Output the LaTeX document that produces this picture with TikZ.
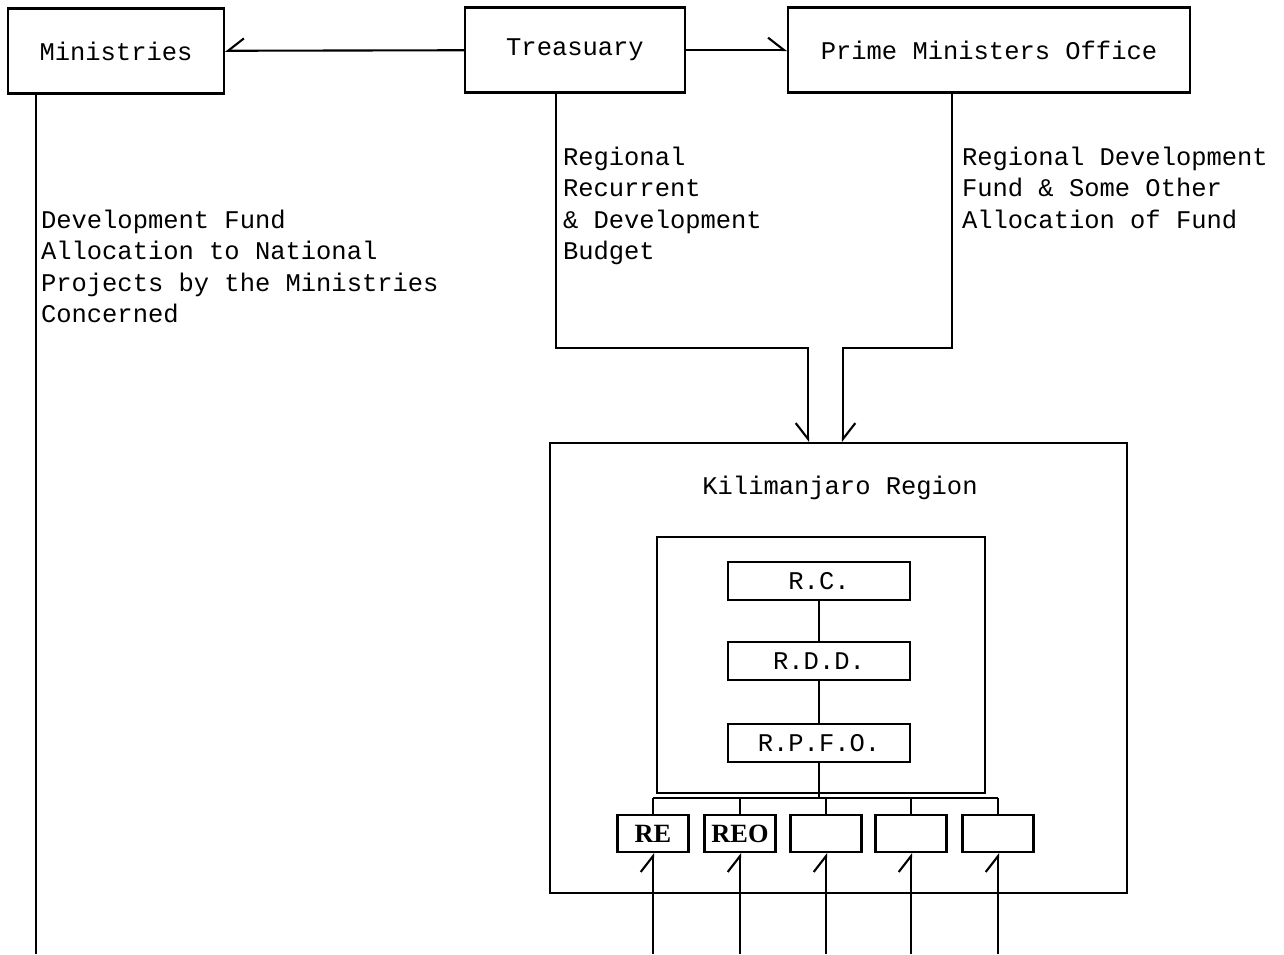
\documentclass[tikz,border=0pt]{standalone}
\usepackage{fontspec}
\setmainfont{Liberation Mono}
\newfontfamily\unitfont{Liberation Serif}
\usetikzlibrary{arrows.meta,positioning}

\begin{document}
\begin{tikzpicture}[
  x=0.02cm, y=-0.02cm,
  line width=1.2pt,
  font=\fontsize{14.5}{17.9}\selectfont,
  topbox/.style={draw, minimum height=1.7cm, minimum width=#1, inner sep=0pt},
  officebox/.style={draw, minimum width=3.64cm, minimum height=0.76cm, inner sep=0pt},
  unitbox/.style={draw, minimum width=1.42cm, minimum height=0.74cm, inner sep=0pt, font=\unitfont\bfseries\fontsize{15}{17}\selectfont},
  note/.style={align=left, anchor=north west, inner sep=0pt},
  arrowL/.style={-{Straight Barb[harpoon, length=9pt, width=14pt]}},
  arrowR/.style={-{Straight Barb[harpoon, swap, length=9pt, width=14pt]}}
]
  \useasboundingbox (0,0) rectangle (1284,954);

  % Top row
  \node[topbox=4.32cm] (mins) at (116,51) {Ministries};
  \node[topbox=4.4cm] (tre) at (575,50) {Treasuary};
  \node[topbox=8.04cm] (pmo) at (989,50) {Prime Ministers Office};

  \draw[arrowR] (tre) -- (mins);
  \draw[arrowL] (tre) -- (pmo);

  % Helper coordinates
  \coordinate (floor) at (0,954);
  \coordinate (mline) at (36,0);
  \coordinate (tbend) at (556,348);
  \coordinate (pbend) at (952,348);
  \coordinate (kx1) at (808,0);
  \coordinate (kx2) at (843,0);

  % Ministries fund line
  \draw (mins.south -| mline) -- (floor -| mline);
  \node[note] (devnote) at (40,209) {Development Fund\\Allocation to National\\Projects by the Ministries\\Concerned};

  % Region
  \node[draw, minimum width=11.54cm, minimum height=9cm, inner sep=0pt] (kili) at (838.5,668) {};
  \node (kilititle) at (840,488) {Kilimanjaro Region};

  % Budget lines
  \draw[arrowR] (tre.south -| tbend) -- (tbend) -| (kili.north -| kx1);
  \draw[arrowL] (pmo.south -| pbend) -- (pbend) -| (kili.north -| kx2);
  \node[note] (budnote) at (562,146) {Regional\\Recurrent\\\& Development\\Budget};
  \node[note] (rdfnote) at (961,146) {Regional Development\\Fund \& Some Other\\Allocation of Fund};

  % Regional offices
  \node[draw, minimum width=6.56cm, minimum height=5.12cm, inner sep=0pt] (inner) at (821,665) {};
  \node[officebox] (rc) at (819,581) {R.C.};
  \node[officebox, below=0.8cm of rc] (rdd) {R.D.D.};
  \node[officebox, below=0.84cm of rdd] (rpfo) {R.P.F.O.};
  \draw (rc) -- (rdd);
  \draw (rdd) -- (rpfo);

  % Units
  \coordinate (bus) at (819,798);
  \node[unitbox] (u1) at (653,833.5) {RE};
  \node[unitbox] (u2) at (740,833.5) {REO};
  \node[unitbox] (u3) at (826,833.5) {};
  \node[unitbox] (u4) at (911,833.5) {};
  \node[unitbox] (u5) at (998,833.5) {};

  \draw (rpfo) -- (bus);
  \draw (u1.north |- bus) -- (u5.north |- bus);
  \foreach \u in {u1,u2,u3,u4,u5} {
    \draw (\u.north |- bus) -- (\u.north);
    \draw[arrowL] (\u.south |- floor) -- (\u.south);
  }
\end{tikzpicture}
\end{document}
